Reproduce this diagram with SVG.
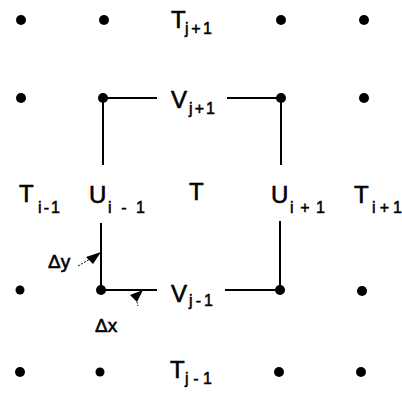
<svg xmlns="http://www.w3.org/2000/svg" width="402" height="397" viewBox="0 0 402 397">
<style>
.dot{fill:#000}
.ln{stroke:#000;stroke-width:2;fill:none}
.lb{font-family:"Liberation Sans",Arial,sans-serif;font-size:24px;fill:#000;stroke:#000;stroke-width:0.6}
.sb{font-size:16px;stroke-width:0.5}
.dl{font-family:"Liberation Sans",Arial,sans-serif;font-size:19px;fill:#000;stroke:#000;stroke-width:0.6}
</style>
<rect width="402" height="397" fill="#fff"/>
<g id="dots">
<circle class="dot" cx="21" cy="20" r="5"/>
<circle class="dot" cx="104" cy="20" r="5"/>
<circle class="dot" cx="281" cy="20" r="5"/>
<circle class="dot" cx="364" cy="20" r="5"/>
<circle class="dot" cx="21" cy="98" r="5"/>
<circle class="dot" cx="103" cy="98" r="5"/>
<circle class="dot" cx="281" cy="98" r="5"/>
<circle class="dot" cx="364" cy="98" r="5"/>
<circle class="dot" cx="20" cy="290" r="4.5"/>
<circle class="dot" cx="101" cy="290" r="5"/>
<circle class="dot" cx="280" cy="290" r="5"/>
<circle class="dot" cx="362" cy="291" r="5"/>
<circle class="dot" cx="20" cy="372" r="5"/>
<circle class="dot" cx="100" cy="372" r="4.5"/>
<circle class="dot" cx="279" cy="372" r="5"/>
<circle class="dot" cx="361" cy="372" r="5"/>
</g>
<g id="connectors">
<line class="ln" x1="103" y1="98" x2="157" y2="98"/>
<line class="ln" x1="227" y1="98" x2="281" y2="98"/>
<line class="ln" x1="103" y1="98" x2="103" y2="165"/>
<line class="ln" x1="281" y1="98" x2="281" y2="165"/>
<line class="ln" x1="101" y1="223" x2="101" y2="290"/>
<line class="ln" x1="280" y1="221" x2="280" y2="290"/>
<line class="ln" x1="101" y1="290" x2="157" y2="290"/>
<line class="ln" x1="225" y1="290" x2="280" y2="290"/>
<line stroke="#000" stroke-width="1" stroke-dasharray="2,1.5" x1="78" y1="266" x2="90" y2="259"/>
<polygon fill="#000" points="101,252 86,257 93,264"/>
<polygon fill="#000" points="143,290 130,295 137,302"/>
<line stroke="#000" stroke-width="1" stroke-dasharray="1.5,1.5" x1="137" y1="302" x2="138" y2="306"/>
</g>
<g id="T_j_plus_1"><text class="lb" x="171" y="28">T</text><text class="lb sb" x="185" y="34" textLength="27" lengthAdjust="spacing">j+1</text></g>
<g id="V_j_plus_1"><text class="lb" x="171" y="108">V</text><text class="lb sb" x="189" y="114" textLength="26" lengthAdjust="spacing">j+1</text></g>
<g id="T_i_minus_1"><text class="lb" x="19" y="202">T</text><text class="lb sb" x="38" y="213" textLength="22" lengthAdjust="spacing">i-1</text></g>
<g id="U_i_minus_1"><text class="lb" x="89" y="203">U</text><text class="lb sb" x="108" y="213" textLength="37" lengthAdjust="spacing">i - 1</text></g>
<g id="T_center"><text class="lb" x="189" y="200">T</text></g>
<g id="U_i_plus_1"><text class="lb" x="271" y="203">U</text><text class="lb sb" x="290" y="213" textLength="35" lengthAdjust="spacing">i + 1</text></g>
<g id="T_i_plus_1"><text class="lb" x="354" y="203">T</text><text class="lb sb" x="372" y="213" textLength="30" lengthAdjust="spacing">i + 1</text></g>
<g id="V_j_minus_1"><text class="lb" x="171" y="302">V</text><text class="lb sb" x="189" y="306" textLength="24" lengthAdjust="spacing">j-1</text></g>
<g id="T_j_minus_1"><text class="lb" x="170" y="378">T</text><text class="lb sb" x="185" y="384" textLength="27" lengthAdjust="spacing">j-1</text></g>
<g id="dy"><text class="dl" x="48" y="268">Δy</text></g>
<g id="dx"><text class="dl" x="95" y="332">Δx</text></g>
</svg>
